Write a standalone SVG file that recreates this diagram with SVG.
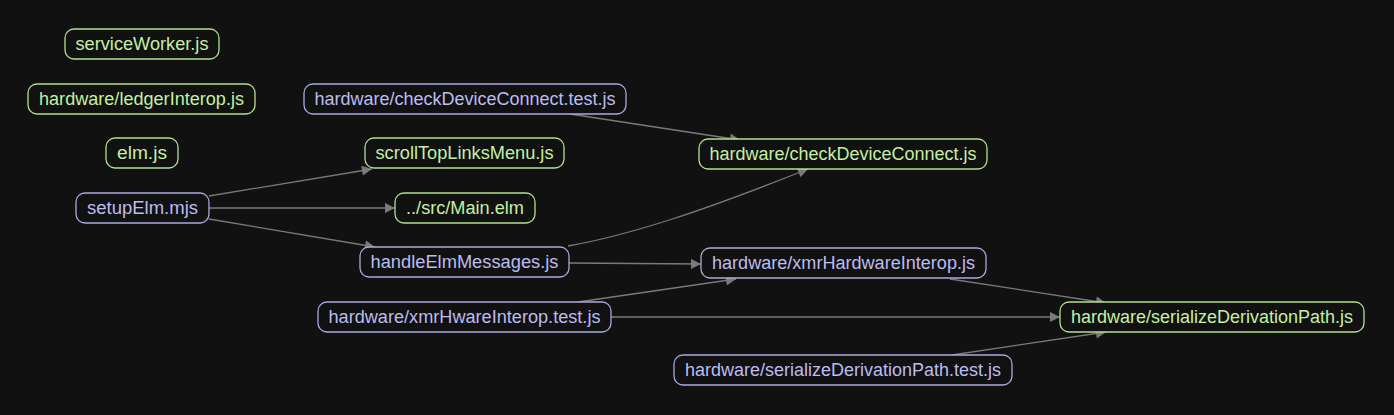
<svg xmlns="http://www.w3.org/2000/svg" width="1394" height="415" viewBox="0 0 1394 415">
<defs>
<style>
.g rect{fill:#111111;stroke:#b3e08f;stroke-width:1.3}
.g text{fill:#c4f0a2}
.p rect{fill:#111111;stroke:#a9a9e0;stroke-width:1.3}
.p text{fill:#bcbcf0}
text{font-family:"Liberation Sans",Arial,sans-serif;font-size:18px;text-anchor:middle;dominant-baseline:central}
.e path{fill:none;stroke:#7a7a7a;stroke-width:1.3}
</style>
<marker id="ah" viewBox="0 0 10 10" refX="10" refY="5" markerWidth="14" markerHeight="10" markerUnits="userSpaceOnUse" orient="auto"><path d="M0,0L10,5L0,10z" fill="#7a7a7a"/></marker>
</defs>
<rect width="1394" height="415" fill="#111111"/>
<g class="e">
<path d="M570,114L740,140" marker-end="url(#ah)"/>
<path d="M209,196L372,169" marker-end="url(#ah)"/>
<path d="M209,208L395,208" marker-end="url(#ah)"/>
<path d="M209,219L375,247" marker-end="url(#ah)"/>
<path d="M568,246C630,235 700,212 808,169" marker-end="url(#ah)"/>
<path d="M569,263L701,264" marker-end="url(#ah)"/>
<path d="M578,302L736,279" marker-end="url(#ah)"/>
<path d="M611,317L1060,317" marker-end="url(#ah)"/>
<path d="M950,279L1106,303" marker-end="url(#ah)"/>
<path d="M952,355L1106,332" marker-end="url(#ah)"/>
</g>
<g id="serviceWorker" class="g"><rect x="65" y="29" width="154" height="30" rx="9"/><text x="142" y="44" textLength="133" lengthAdjust="spacingAndGlyphs">serviceWorker.js</text></g>
<g id="ledgerInterop" class="g"><rect x="28" y="84" width="227" height="30" rx="9"/><text x="141.5" y="99" textLength="205" lengthAdjust="spacingAndGlyphs">hardware/ledgerInterop.js</text></g>
<g id="elm" class="g"><rect x="106" y="138" width="72" height="30" rx="9"/><text x="142" y="153" textLength="50" lengthAdjust="spacingAndGlyphs">elm.js</text></g>
<g id="setupElm" class="p"><rect x="76" y="193" width="133" height="30" rx="9"/><text x="142.5" y="208" textLength="111" lengthAdjust="spacingAndGlyphs">setupElm.mjs</text></g>
<g id="checkDeviceConnectTest" class="p"><rect x="304" y="84" width="322" height="30" rx="9"/><text x="465" y="99" textLength="301" lengthAdjust="spacingAndGlyphs">hardware/checkDeviceConnect.test.js</text></g>
<g id="scrollTopLinksMenu" class="g"><rect x="365" y="138" width="199" height="30" rx="9"/><text x="464.5" y="153" textLength="178" lengthAdjust="spacingAndGlyphs">scrollTopLinksMenu.js</text></g>
<g id="mainElm" class="g"><rect x="395" y="193" width="140" height="30" rx="9"/><text x="465" y="208" textLength="118" lengthAdjust="spacingAndGlyphs">../src/Main.elm</text></g>
<g id="handleElmMessages" class="p"><rect x="360" y="247" width="209" height="30" rx="9"/><text x="464.5" y="262" textLength="188" lengthAdjust="spacingAndGlyphs">handleElmMessages.js</text></g>
<g id="xmrHwareInteropTest" class="p"><rect x="318" y="302" width="293" height="30" rx="9"/><text x="464.5" y="317" textLength="272" lengthAdjust="spacingAndGlyphs">hardware/xmrHwareInterop.test.js</text></g>
<g id="checkDeviceConnect" class="g"><rect x="699" y="139" width="288" height="30" rx="9"/><text x="843" y="154" textLength="267" lengthAdjust="spacingAndGlyphs">hardware/checkDeviceConnect.js</text></g>
<g id="xmrHardwareInterop" class="p"><rect x="701" y="248" width="285" height="30" rx="9"/><text x="843.5" y="263" textLength="263" lengthAdjust="spacingAndGlyphs">hardware/xmrHardwareInterop.js</text></g>
<g id="serializeDerivationPathTest" class="p"><rect x="674" y="355" width="338" height="30" rx="9"/><text x="843" y="370" textLength="316" lengthAdjust="spacingAndGlyphs">hardware/serializeDerivationPath.test.js</text></g>
<g id="serializeDerivationPath" class="g"><rect x="1060" y="302" width="304" height="30" rx="9"/><text x="1212" y="317" textLength="282" lengthAdjust="spacingAndGlyphs">hardware/serializeDerivationPath.js</text></g>
</svg>
